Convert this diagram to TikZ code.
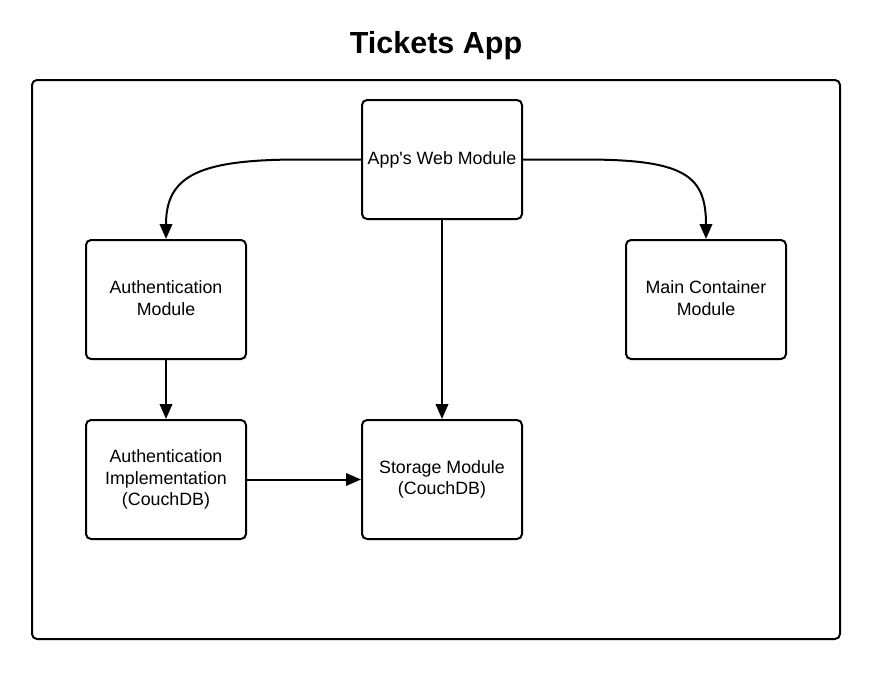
\documentclass[tikz,border=0pt]{standalone}
\usepackage{fontspec}
\setmainfont{Liberation Sans}
\usetikzlibrary{arrows.meta}
\begin{document}
\begin{tikzpicture}[x=1pt,y=-1pt,
  box/.style={draw,line width=2pt,rounded corners=5pt,minimum width=160pt,minimum height=119pt,
    align=center,font=\fontsize{17.8}{21.5}\selectfont,inner sep=0pt},
  conn/.style={line width=2pt,-{Triangle[length=15pt,width=12.5pt]}}]
\useasboundingbox (0,0) rectangle (880,680);
\node[font=\fontsize{30.5}{36}\selectfont\bfseries] (title) at (436,46) {Tickets App};
\draw[line width=2pt,rounded corners=5pt] (32,80) rectangle (840,639);
\node[box] (web) at (442,159.5) {App\textquotesingle s Web Module};
\node[box,text depth=3pt] (auth) at (166,299.5) {Authentication\\Module};
\node[box,text depth=3pt] (main) at (706,299.5) {Main Container\\Module};
\node[box] (impl) at (166,479.5) {Authentication\\Implementation\\(CouchDB)};
\node[box] (store) at (442,479.5) {Storage Module\\(CouchDB)};
\coordinate (l1) at (300,159.5);
\coordinate (r1) at (584,159.5);
\draw[conn] (web.west) -- (l1) .. controls (200,159.5) and (166,175) .. (auth.north);
\draw[conn] (web.east) -- (r1) .. controls (684,159.5) and (706,175) .. (main.north);
\draw[conn] (web.south) -- (store.north);
\draw[conn] (auth.south) -- (impl.north);
\draw[conn] (impl.east) -- (store.west);
\end{tikzpicture}
\end{document}
